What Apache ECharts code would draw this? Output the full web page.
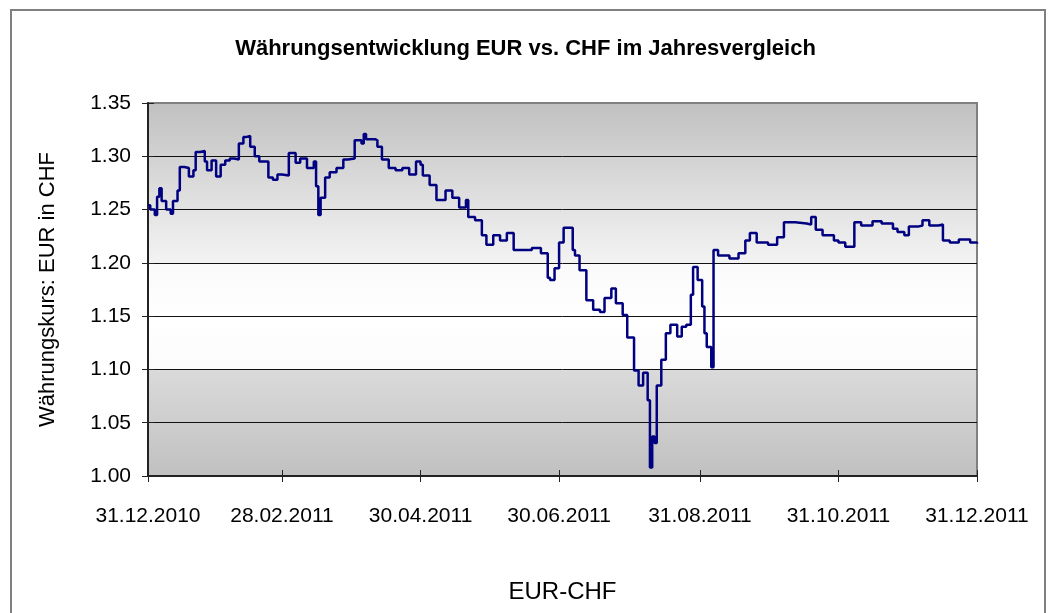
<!DOCTYPE html>
<html>
<head>
<meta charset="utf-8">
<title>Währungsentwicklung EUR vs. CHF</title>
<script src="https://cdn.jsdelivr.net/npm/echarts@6/dist/echarts.min.js"></script>
<style>
  html, body { margin: 0; padding: 0; background: #fff; }
  #chart { width: 1051px; height: 613px; }
</style>
</head>
<body>
<div id="chart"></div>
<script>
// Kursdaten EUR-CHF 2011
const dates = [
  '2010-12-31', '2011-01-01', '2011-01-03', '2011-01-04', '2011-01-05', '2011-01-06', '2011-01-08', '2011-01-10',
  '2011-01-11', '2011-01-13', '2011-01-14', '2011-01-16', '2011-01-18', '2011-01-20', '2011-01-21', '2011-01-23',
  '2011-01-25', '2011-01-26', '2011-01-28', '2011-01-30', '2011-02-01', '2011-02-03', '2011-02-05', '2011-02-07',
  '2011-02-09', '2011-02-11', '2011-02-12', '2011-02-14', '2011-02-16', '2011-02-18', '2011-02-20', '2011-02-22',
  '2011-02-24', '2011-02-26', '2011-02-28', '2011-03-03', '2011-03-06', '2011-03-08', '2011-03-11', '2011-03-14',
  '2011-03-15', '2011-03-16', '2011-03-17', '2011-03-19', '2011-03-21', '2011-03-24', '2011-03-27', '2011-03-29',
  '2011-04-01', '2011-04-04', '2011-04-05', '2011-04-06', '2011-04-10', '2011-04-11', '2011-04-13', '2011-04-16',
  '2011-04-19', '2011-04-22', '2011-04-25', '2011-04-28', '2011-04-30', '2011-05-01', '2011-05-04', '2011-05-07',
  '2011-05-11', '2011-05-14', '2011-05-17', '2011-05-20', '2011-05-21', '2011-05-24', '2011-05-27', '2011-05-29',
  '2011-06-01', '2011-06-04', '2011-06-07', '2011-06-10', '2011-06-15', '2011-06-18', '2011-06-22', '2011-06-25',
  '2011-06-26', '2011-06-28', '2011-06-30', '2011-07-02', '2011-07-05', '2011-07-06', '2011-07-07', '2011-07-09',
  '2011-07-12', '2011-07-15', '2011-07-18', '2011-07-20', '2011-07-23', '2011-07-25', '2011-07-28', '2011-07-30',
  '2011-08-02', '2011-08-04', '2011-08-06', '2011-08-08', '2011-08-09', '2011-08-10', '2011-08-11', '2011-08-12',
  '2011-08-14', '2011-08-16', '2011-08-18', '2011-08-21', '2011-08-23', '2011-08-25', '2011-08-27', '2011-08-28',
  '2011-08-30', '2011-09-01', '2011-09-02', '2011-09-03', '2011-09-05', '2011-09-06', '2011-09-08', '2011-09-13',
  '2011-09-17', '2011-09-20', '2011-09-22', '2011-09-25', '2011-09-30', '2011-10-04', '2011-10-07', '2011-10-12',
  '2011-10-17', '2011-10-19', '2011-10-21', '2011-10-24', '2011-10-29', '2011-10-31', '2011-11-03', '2011-11-06',
  '2011-11-07', '2011-11-10', '2011-11-15', '2011-11-19', '2011-11-24', '2011-11-26', '2011-11-29', '2011-12-01',
  '2011-12-05', '2011-12-07', '2011-12-10', '2011-12-14', '2011-12-16', '2011-12-19', '2011-12-23', '2011-12-28',
  '2011-12-31'
];
const rates = [
  1.254, 1.250, 1.245, 1.262, 1.270, 1.258, 1.250, 1.246,
  1.258, 1.268, 1.290, 1.289, 1.281, 1.287, 1.304, 1.305,
  1.295, 1.287, 1.296, 1.281, 1.292, 1.296, 1.298, 1.297,
  1.312, 1.318, 1.319, 1.309, 1.300, 1.295, 1.295, 1.280,
  1.278, 1.283, 1.282, 1.303, 1.294, 1.298, 1.289, 1.295,
  1.272, 1.245, 1.261, 1.280, 1.285, 1.289, 1.297, 1.298,
  1.315, 1.312, 1.321, 1.316, 1.315, 1.309, 1.297, 1.289,
  1.287, 1.289, 1.283, 1.295, 1.292, 1.282, 1.273, 1.259,
  1.268, 1.261, 1.252, 1.259, 1.243, 1.240, 1.226, 1.217,
  1.226, 1.221, 1.228, 1.212, 1.212, 1.214, 1.209, 1.186,
  1.184, 1.195, 1.219, 1.233, 1.233, 1.212, 1.207, 1.193,
  1.165, 1.156, 1.154, 1.167, 1.176, 1.162, 1.151, 1.130,
  1.099, 1.085, 1.097, 1.071, 1.008, 1.037, 1.031, 1.085,
  1.109, 1.134, 1.142, 1.131, 1.140, 1.142, 1.170, 1.196,
  1.184, 1.159, 1.134, 1.121, 1.102, 1.212, 1.207, 1.204,
  1.209, 1.221, 1.228, 1.219, 1.217, 1.224, 1.238, 1.237,
  1.236, 1.243, 1.231, 1.226, 1.221, 1.219, 1.215, 1.215,
  1.238, 1.235, 1.239, 1.237, 1.232, 1.229, 1.226, 1.234,
  1.235, 1.240, 1.235, 1.236, 1.221, 1.219, 1.222, 1.219,
  1.218
];
// Beschriftete Datumswerte auf der x-Achse
const tickDates = ['2010-12-31', '2011-02-28', '2011-04-30', '2011-06-30', '2011-08-31', '2011-10-31', '2011-12-31'];
const yMin = 1.00;
const yMax = 1.35;
const yStep = 0.05;

const FONT = '"Liberation Sans", Arial, sans-serif';
const DAY = 24 * 60 * 60 * 1000;

// Datum -> Tage seit dem 31.12.2010 (UTC, damit keine Zeitzonenprobleme)
function toDay(d) {
  return Math.round((Date.parse(d + 'T00:00:00Z') - Date.parse(tickDates[0] + 'T00:00:00Z')) / DAY);
}

// Tage -> dd.mm.yyyy
function formatDay(val) {
  const d = new Date(Date.parse(tickDates[0] + 'T00:00:00Z') + Math.round(val) * DAY);
  const pad = (n) => n.toString().padStart(2, '0');
  return `${pad(d.getUTCDate())}.${pad(d.getUTCMonth() + 1)}.${d.getUTCFullYear()}`;
}

const tickValues = tickDates.map(toDay);
const seriesData = dates.map((d, i) => [toDay(d), rates[i]]);

// Hintergrund des Diagrammbereichs: grau - weiss - grau
const plotBg = new echarts.graphic.LinearGradient(0, 0, 0, 1, [
  { offset: 0, color: '#c0c0c0' },
  { offset: 0.285, color: '#e3e3e3' },
  { offset: 0.43, color: '#f3f3f3' },
  { offset: 0.43, color: '#fafafa' },
  { offset: 0.57, color: '#ffffff' },
  { offset: 0.715, color: '#fbfbfb' },
  { offset: 0.715, color: '#dadada' },
  { offset: 0.86, color: '#cdcdcd' },
  { offset: 1, color: '#c0c0c0' }
]);

const chart = echarts.init(document.getElementById('chart'), null, { renderer: 'canvas' });

chart.setOption({
  backgroundColor: '#ffffff',
  animation: false,
  title: {
    text: 'Währungsentwicklung EUR vs. CHF im Jahresvergleich',
    left: 'center',
    top: 33,
    textStyle: { fontFamily: FONT, fontSize: 22, fontWeight: 'bold', color: '#000' }
  },
  graphic: [{
    type: 'rect',
    silent: true,
    z: -10,
    shape: { x: 11, y: 10, width: 1034, height: 640 },
    style: { fill: 'none', stroke: '#808080', lineWidth: 2 }
  }],
  grid: {
    left: 148,
    right: 74,
    top: 103,
    bottom: 137,
    show: true,
    backgroundColor: plotBg,
    borderColor: '#808080',
    borderWidth: 2
  },
  xAxis: [
    {
      type: 'value',
      min: tickValues[0],
      max: tickValues[tickValues.length - 1],
      name: 'EUR-CHF',
      nameLocation: 'middle',
      nameGap: 104,
      nameTextStyle: { fontFamily: FONT, fontSize: 24, color: '#000' },
      axisLine: { show: true, onZero: false, lineStyle: { color: '#222', width: 2 } },
      axisTick: { show: true, length: 6, customValues: tickValues, lineStyle: { color: '#222', width: 1 } },
      axisLabel: {
        customValues: tickValues,
        formatter: formatDay,
        margin: 30,
        fontFamily: FONT,
        fontSize: 21,
        color: '#000',
        hideOverlap: false
      },
      splitLine: { show: false }
    },
    {
      // zweite Achse nur für die nach innen zeigenden Teilstriche
      type: 'value',
      position: 'bottom',
      min: tickValues[0],
      max: tickValues[tickValues.length - 1],
      axisLine: { show: false, onZero: false },
      axisTick: { show: true, inside: true, length: 6, customValues: tickValues, lineStyle: { color: '#222', width: 1 } },
      axisLabel: { show: false },
      splitLine: { show: false }
    }
  ],
  yAxis: [
    {
      type: 'value',
      min: yMin,
      max: yMax,
      interval: yStep,
      name: 'Währungskurs: EUR in CHF',
      nameLocation: 'middle',
      nameGap: 89,
      nameRotate: 90,
      nameTextStyle: { fontFamily: FONT, fontSize: 22, color: '#000' },
      axisLine: { show: true, onZero: false, lineStyle: { color: '#222', width: 2 } },
      axisTick: { show: true, length: 6, lineStyle: { color: '#222', width: 1 } },
      axisLabel: {
        formatter: (v) => v.toFixed(2),
        margin: 17,
        fontFamily: FONT,
        fontSize: 21,
        color: '#000'
      },
      splitLine: { show: true, showMaxLine: false, lineStyle: { color: '#111', width: 1 } }
    },
    {
      type: 'value',
      position: 'left',
      min: yMin,
      max: yMax,
      interval: yStep,
      axisLine: { show: false, onZero: false },
      axisTick: { show: true, inside: true, length: 6, lineStyle: { color: '#222', width: 1 } },
      axisLabel: { show: false },
      splitLine: { show: false }
    }
  ],
  series: [{
    name: 'EUR-CHF',
    type: 'line',
    step: 'end',
    xAxisIndex: 0,
    yAxisIndex: 0,
    data: seriesData,
    showSymbol: false,
    lineStyle: { color: '#000080', width: 2.5 },
    itemStyle: { color: '#000080' }
  }]
});
</script>
</body>
</html>
